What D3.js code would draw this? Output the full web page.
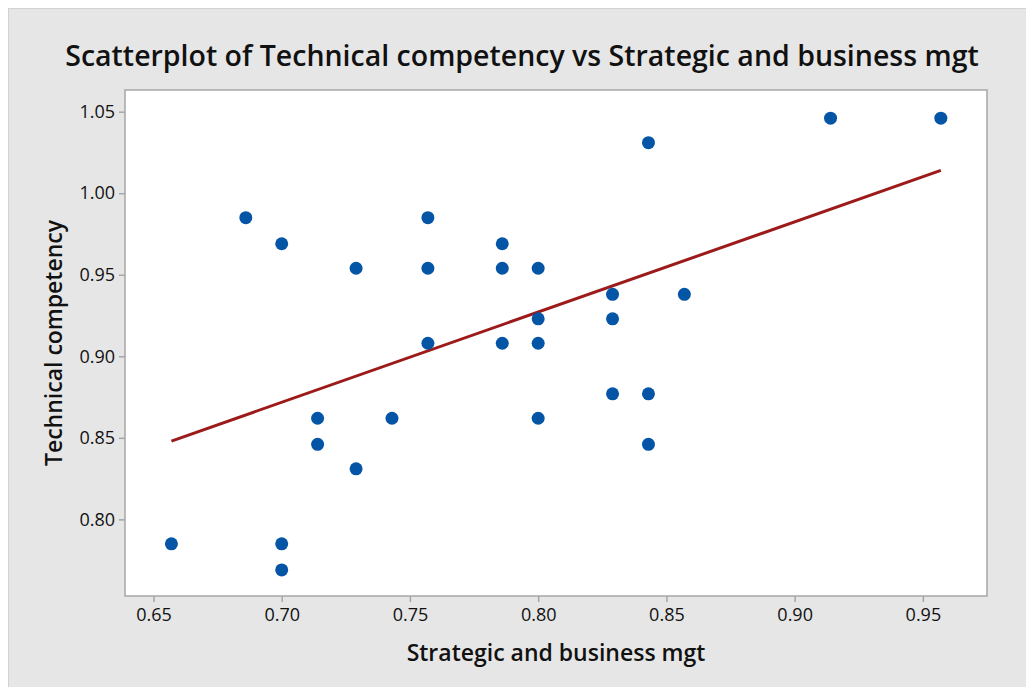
<!DOCTYPE html>
<html lang="en">
<head>
  <meta charset="UTF-8">
  <title>Scatterplot</title>
  <script src="https://d3js.org/d3.v7.min.js"></script>
  <style>
    body {
      margin: 0;
      background-color: #ffffff;
      overflow: hidden;
    }
    svg text {
      font-family: "Open Sans", "Noto Sans", sans-serif;
      fill: #111;
    }
    .title {
      font-size: 28.5px;
      font-weight: 600;
    }
    .axis-title {
      font-size: 23px;
      font-weight: 600;
    }
    .tick text {
      font-size: 18px;
    }
  </style>
</head>
<body>
  <div id="chart"></div>
  <script>
    // x values (Strategic and business mgt)
    const xValues = [0.657, 0.686, 0.700, 0.700, 0.700, 0.714, 0.714, 0.729, 0.729, 0.743,
                     0.757, 0.757, 0.757, 0.786, 0.786, 0.786, 0.800, 0.800, 0.800, 0.800,
                     0.829, 0.829, 0.829, 0.843, 0.843, 0.843, 0.857, 0.914, 0.957];
    // y values (Technical competency)
    const yValues = [0.785, 0.985, 0.969, 0.785, 0.769, 0.862, 0.846, 0.954, 0.831, 0.862,
                     0.985, 0.954, 0.908, 0.969, 0.954, 0.908, 0.954, 0.923, 0.908, 0.862,
                     0.938, 0.923, 0.877, 1.031, 0.877, 0.846, 0.938, 1.046, 1.046];
    // fitted line end points
    const fitX = [0.657, 0.957];
    const fitY = [0.848, 1.014];

    const xTicks = [0.65, 0.70, 0.75, 0.80, 0.85, 0.90, 0.95];
    const yTicks = [0.80, 0.85, 0.90, 0.95, 1.00, 1.05];

    const width = 1026, height = 687;
    const plot = { left: 125, top: 90, right: 987, bottom: 596 };

    const svg = d3.select("#chart").append("svg")
      .attr("width", width)
      .attr("height", height);

    // outer panel
    svg.append("rect")
      .attr("x", 8.5).attr("y", 8.5)
      .attr("width", width).attr("height", height)
      .attr("fill", "#e6e6e6")
      .attr("stroke", "#d2d2d2");

    const x = d3.scaleLinear().domain([0.6389, 0.975]).range([plot.left, plot.right]);
    const y = d3.scaleLinear().domain([0.753, 1.0633]).range([plot.bottom, plot.top]);

    svg.append("rect")
      .attr("x", plot.left).attr("y", plot.top)
      .attr("width", plot.right - plot.left)
      .attr("height", plot.bottom - plot.top)
      .attr("fill", "#fff")
      .attr("stroke", "#a6a6a6")
      .attr("stroke-width", 1.5);

    const xAxis = svg.append("g")
      .attr("transform", `translate(0,${plot.bottom})`)
      .call(d3.axisBottom(x).tickValues(xTicks).tickFormat(d3.format(".2f")).tickSize(6).tickPadding(6));

    const yAxis = svg.append("g")
      .attr("transform", `translate(${plot.left},0)`)
      .call(d3.axisLeft(y).tickValues(yTicks).tickFormat(d3.format(".2f")).tickSize(6).tickPadding(4));

    [xAxis, yAxis].forEach(a => {
      a.select(".domain").remove();
      a.selectAll(".tick line").attr("stroke", "#a6a6a6").attr("stroke-width", 1.5);
      a.selectAll(".tick text").attr("fill", "#111");
    });

    // regression line
    svg.append("line")
      .attr("x1", x(fitX[0])).attr("y1", y(fitY[0]))
      .attr("x2", x(fitX[1])).attr("y2", y(fitY[1]))
      .attr("stroke", "#9c1a1a")
      .attr("stroke-width", 3);

    svg.append("g")
      .selectAll("circle")
      .data(xValues.map((d, i) => [d, yValues[i]]))
      .join("circle")
      .attr("cx", d => x(d[0]))
      .attr("cy", d => y(d[1]))
      .attr("r", 6.5)
      .attr("fill", "#0455a6");

    svg.append("text")
      .attr("class", "title")
      .attr("x", 522).attr("y", 66)
      .attr("text-anchor", "middle")
      .text("Scatterplot of Technical competency vs Strategic and business mgt");

    svg.append("text")
      .attr("class", "axis-title")
      .attr("x", (plot.left + plot.right) / 2).attr("y", 661)
      .attr("text-anchor", "middle")
      .text("Strategic and business mgt");

    svg.append("text")
      .attr("class", "axis-title")
      .attr("transform", `translate(62,${(plot.top + plot.bottom) / 2}) rotate(-90)`)
      .attr("text-anchor", "middle")
      .text("Technical competency");
  </script>
</body>
</html>
